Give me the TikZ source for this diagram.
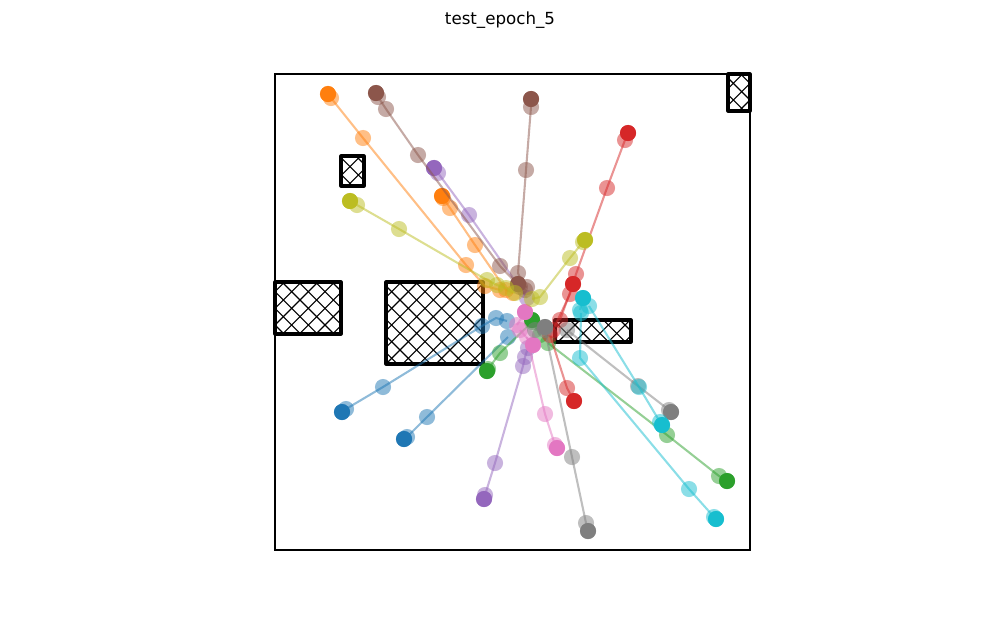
\documentclass[tikz,border=0pt]{standalone}
\usepackage{fontspec}
\setmainfont{DejaVu Sans}

\definecolor{tabblue}{HTML}{1F77B4}
\definecolor{taborange}{HTML}{FF7F0E}
\definecolor{tabgreen}{HTML}{2CA02C}
\definecolor{tabred}{HTML}{D62728}
\definecolor{tabpurple}{HTML}{9467BD}
\definecolor{tabbrown}{HTML}{8C564B}
\definecolor{tabpink}{HTML}{E377C2}
\definecolor{tabgray}{HTML}{7F7F7F}
\definecolor{tabolive}{HTML}{BCBD22}
\definecolor{tabcyan}{HTML}{17BECF}

% one agent: name, colour, positions (last one is drawn solid)
\newcommand{\traj}[3]{%
  \foreach \p [count=\i] in {#3} {\path \p coordinate (#1-\i); \xdef\trajlen{\i}}
  \draw[trajline, draw=#2] (#1-1) \foreach \k in {2,...,\trajlen} {-- (#1-\k)};
  \foreach \k in {1,...,\trajlen} \fill[trajpt, fill=#2] (#1-\k) circle[radius=5.8pt];
  \fill[#2] (#1-\trajlen) circle[radius=5.8pt];
}

% hatched obstacle: corners
\newcommand{\obst}[4]{%
  \begin{scope}
    \clip (#1,#2) rectangle (#3,#4);
    \foreach \c in {0,16.667,...,1400} {
      \draw[hatchline] (\c,0) -- ++(-700,700);
      \draw[hatchline] (\c-700,0) -- ++(700,700);
    }
  \end{scope}
  \draw[obstacle] (#1,#2) rectangle (#3,#4);
}

\begin{document}
\begin{tikzpicture}[x=0.72pt,y=-0.72pt,
    trajline/.style={line width=1.5pt,draw opacity=0.5},
    trajpt/.style={fill opacity=0.5}]
  \tikzstyle{hatchline}=[line width=0.8pt,black]
  \tikzstyle{obstacle}=[line width=2.2pt,black,line join=round]
  \useasboundingbox (0,0) rectangle (1000,618);

  \node (title) at (500,20) {\fontsize{12pt}{14pt}\selectfont test\_epoch\_5};

  % Obstacles
  \obst{728}{74}{750}{111}
  \obst{341}{156}{364}{186}
  \obst{275}{282}{341}{334}
  \obst{386}{282}{483}{364}
  \obst{555}{320}{631}{342}

  % Trajectories
  \traj{b1}{tabblue}{(507,321),(496,318),(482,326),(383,387),(346,409),(342,412)}
  \traj{b2}{tabblue}{(508,337),(427,417),(407,437),(404,439)}
  \traj{o1}{taborange}{(500,290),(485,286),(466,265),(363,138),(331,98),(328,94)}
  \traj{o2}{taborange}{(513,293),(506,290),(475,245),(450,208),(443,198),(442,196)}
  \traj{g1}{tabgreen}{(548,343),(667,435),(719,476),(727,481)}
  \traj{g2}{tabgreen}{(532,322),(500,353),(488,369),(487,371)}
  \traj{g3}{tabgreen}{(540,335),(532,320)}
  \traj{r1}{tabred}{(553,330),(570,294),(576,274),(607,188),(625,140),(628,133)}
  \traj{r2}{tabred}{(550,335),(567,388),(574,401)}
  \traj{r3}{tabred}{(560,320),(573,284)}
  \traj{p1}{tabpurple}{(527,298),(469,215),(438,173),(434,168)}
  \traj{p2}{tabpurple}{(528,348),(525,357),(523,366),(495,463),(485,495),(484,499)}
  \traj{br1}{tabbrown}{(520,287),(500,266),(418,155),(386,109),(378,97),(376,93)}
  \traj{br2}{tabbrown}{(525,290),(518,273),(526,170),(531,107),(531,99)}
  \traj{br3}{tabbrown}{(527,287),(518,284)}
  \traj{pk1}{tabpink}{(527,337),(545,414),(555,445),(557,448)}
  \traj{pk2}{tabpink}{(517,325),(525,312)}
  \traj{pk3}{tabpink}{(520,330),(533,345)}
  \traj{gr1}{tabgray}{(545,330),(572,457),(586,523),(588,531)}
  \traj{gr2}{tabgray}{(567,330),(638,386),(669,410),(671,412)}
  \traj{gr3}{tabgray}{(535,330),(545,327)}
  \traj{ol1}{tabolive}{(515,293),(506,288),(497,285),(487,280),(399,229),(357,205),(350,201)}
  \traj{ol2}{tabolive}{(532,299),(540,297),(570,258),(583,242),(585,240)}
  \traj{c1}{tabcyan}{(581,313),(580,358),(689,489),(714,517),(716,519)}
  \traj{c2}{tabcyan}{(589,306),(639,387),(660,422),(662,425)}
  \traj{c3}{tabcyan}{(580,310),(583,298)}

  % Axes
  \draw[line width=0.8pt] (275,74) rectangle (750,550);
\end{tikzpicture}
\end{document}
